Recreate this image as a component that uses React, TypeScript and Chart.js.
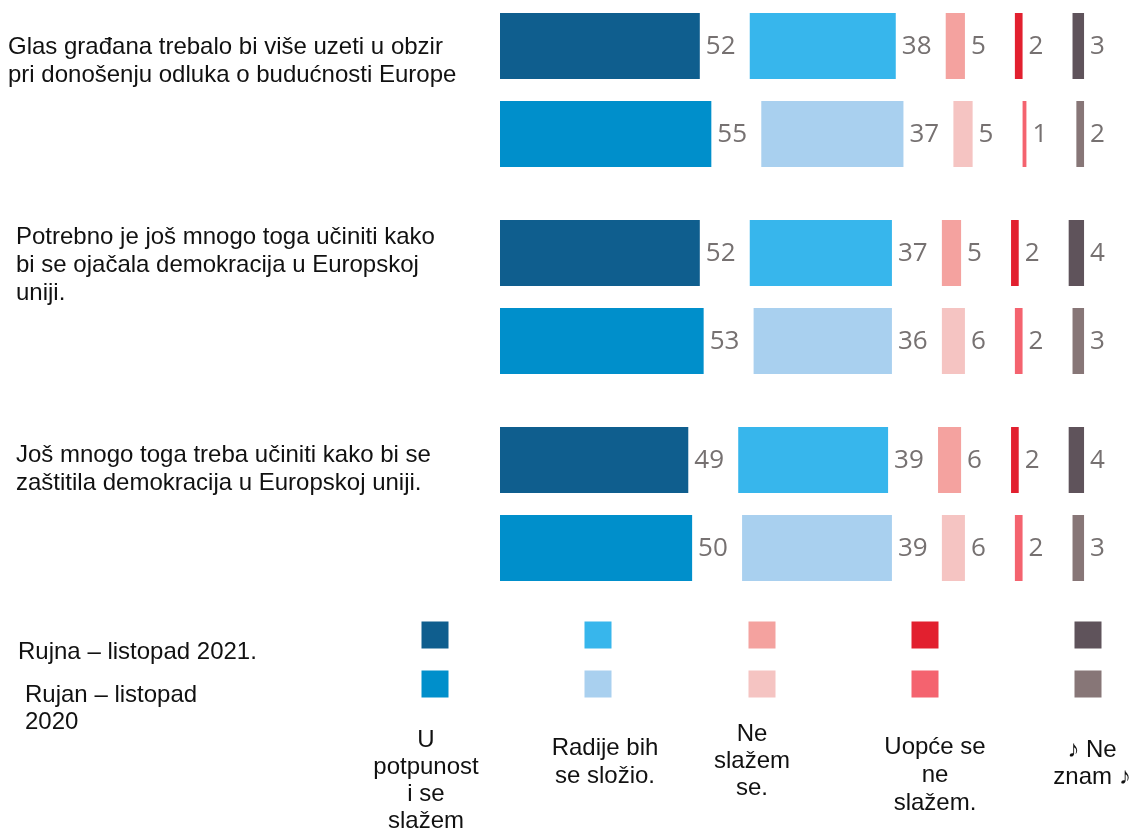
import React, { useEffect, useRef } from 'react';
import { Chart, registerables } from 'chart.js';

Chart.register(...registerables);

// ---------- data ----------
const QUESTIONS: string[][] = [
  ['Glas građana trebalo bi više uzeti u obzir', 'pri donošenju odluka o budućnosti Europe'],
  ['Potrebno je još mnogo toga učiniti kako', 'bi se ojačala demokracija u Europskoj', 'uniji.'],
  ['Još mnogo toga treba učiniti kako bi se', 'zaštitila demokracija u Europskoj uniji.'],
];
const PERIODS: string[][] = [['Rujna – listopad 2021.'], ['Rujan – listopad', '2020']];
const PERIOD_KEYS = ['2021', '2020'];
const ANSWERS: string[][] = [
  ['U', 'potpunost', 'i se', 'slažem'],
  ['Radije bih', 'se složio.'],
  ['Ne', 'slažem', 'se.'],
  ['Uopće se', 'ne', 'slažem.'],
  ['♪ Ne', 'znam ♪'],
];

const TOTALLY_2021 = [52, 52, 49];
const RATHER_2021 = [38, 37, 39];
const DISAGREE_2021 = [5, 5, 6];
const STRONGLY_2021 = [2, 2, 2];
const DONTKNOW_2021 = [3, 4, 4];

const TOTALLY_2020 = [55, 53, 50];
const RATHER_2020 = [37, 36, 39];
const DISAGREE_2020 = [5, 6, 6];
const STRONGLY_2020 = [1, 2, 2];
const DONTKNOW_2020 = [2, 3, 3];

const GAP = 13; // spacer between answer columns (holds the value label)
const X_MAX = 165;

// ---------- styles ----------
const COLORS_2021 = ['#0f5e8e', '#37b6ec', '#f4a29f', '#e2202f', '#5f535b'];
const COLORS_2020 = ['#008fcb', '#a9d0ef', '#f5c4c2', '#f4636f', '#877677'];
const VALUE_COLOR = '#767171';
const VALUE_FONT = '26px "Open Sans", sans-serif';
const TEXT_FONT = '24px "Liberation Sans", Arial, sans-serif';
const TEXT_COLOR = '#111111';
const LINE_H = 28;

const QUESTION_LAYOUT = [
  { x: 8, dy: -29 },
  { x: 16, dy: -32 },
  { x: 16, dy: -35 },
];
const LEGEND_X = [435, 598, 762, 925, 1088];
const LEGEND_Y = [635, 684];
const LEGEND_SIZE = 27;
const PERIOD_LAYOUT = [
  { x: 18, y: 652 },
  { x: 25, y: 695 },
];
const ANSWER_LAYOUT = [
  { x: 426, y: 740, lh: 27 },
  { x: 605, y: 748, lh: 28 },
  { x: 752, y: 734, lh: 27 },
  { x: 935, y: 747, lh: 28 },
  { x: 1092, y: 750, lh: 27 },
];

export default function App() {
  const ref = useRef<HTMLCanvasElement | null>(null);

  useEffect(() => {
    if (!ref.current) return;
    const series2021 = [TOTALLY_2021, RATHER_2021, DISAGREE_2021, STRONGLY_2021, DONTKNOW_2021];
    const series2020 = [TOTALLY_2020, RATHER_2020, DISAGREE_2020, STRONGLY_2020, DONTKNOW_2020];
    const allSeries = [series2021, series2020];
    const allColors = [COLORS_2021, COLORS_2020];

    const datasets: any[] = [];
    PERIOD_KEYS.forEach((key, pi) => {
      allSeries[pi].forEach((vals, ci) => {
        datasets.push({
          label: ANSWERS[ci].join(' ') + ' ' + key,
          data: vals,
          backgroundColor: allColors[pi][ci],
          stack: key,
          isValue: true,
          clip: false,
        });
        if (ci < allSeries[pi].length - 1) {
          datasets.push({
            label: 'gap',
            data: vals.map(() => GAP),
            backgroundColor: 'rgba(0,0,0,0)',
            stack: key,
            isValue: false,
            clip: false,
          });
        }
      });
    });

    const textPlugin = {
      id: 'customText',
      afterDraw(chart: any) {
        const ctx = chart.ctx;
        ctx.save();
        // value labels
        ctx.font = VALUE_FONT;
        ctx.fillStyle = VALUE_COLOR;
        ctx.textBaseline = 'middle';
        ctx.textAlign = 'left';
        chart.data.datasets.forEach((ds: any, di: number) => {
          if (!ds.isValue) return;
          const meta = chart.getDatasetMeta(di);
          meta.data.forEach((el: any, i: number) => {
            ctx.fillText(String(ds.data[i]), el.x + 6, el.y + 1);
          });
        });
        // question labels
        ctx.font = TEXT_FONT;
        ctx.fillStyle = TEXT_COLOR;
        const yScale = chart.scales.y;
        QUESTIONS.forEach((lines, qi) => {
          const c = yScale.getPixelForValue(qi) + QUESTION_LAYOUT[qi].dy;
          const top = c - ((lines.length - 1) * LINE_H) / 2;
          lines.forEach((ln, li) => {
            ctx.fillText(ln, QUESTION_LAYOUT[qi].x, top + li * LINE_H);
          });
        });
        // legend squares
        [COLORS_2021, COLORS_2020].forEach((cols, ri) => {
          cols.forEach((col, ci) => {
            ctx.fillStyle = col;
            ctx.fillRect(
              LEGEND_X[ci] - LEGEND_SIZE / 2,
              LEGEND_Y[ri] - LEGEND_SIZE / 2,
              LEGEND_SIZE,
              LEGEND_SIZE
            );
          });
        });
        // period labels
        ctx.fillStyle = TEXT_COLOR;
        ctx.textAlign = 'left';
        PERIODS.forEach((lines, pi) => {
          lines.forEach((ln, li) => {
            ctx.fillText(ln, PERIOD_LAYOUT[pi].x, PERIOD_LAYOUT[pi].y + li * 27);
          });
        });
        // answer labels
        ctx.textAlign = 'center';
        ANSWERS.forEach((lines, ai) => {
          const L = ANSWER_LAYOUT[ai];
          lines.forEach((ln, li) => {
            ctx.fillText(ln, L.x, L.y + li * L.lh);
          });
        });
        ctx.restore();
      },
    };

    const chart = new Chart(ref.current, {
      type: 'bar',
      data: { labels: QUESTIONS.map((q) => q.join(' ')), datasets },
      options: {
        indexAxis: 'y',
        animation: false,
        responsive: false,
        maintainAspectRatio: false,
        categoryPercentage: 0.85,
        barPercentage: 0.75,
        layout: { padding: { left: 500, right: 0, top: 90, bottom: 327 } },
        plugins: { legend: { display: false }, tooltip: { enabled: false } },
        scales: {
          x: { stacked: true, min: 0, max: X_MAX, display: false },
          y: { type: 'category', stacked: true, offset: false, display: false, grid: { offset: false } },
        },
      } as any,
      plugins: [textPlugin],
    });
    return () => chart.destroy();
  }, []);

  return (
    <div style={{ position: 'absolute', left: 0, top: 0, width: 1134, height: 831, background: '#fff' }}>
      <canvas ref={ref} width={1134} height={831} style={{ display: 'block' }} />
    </div>
  );
}
